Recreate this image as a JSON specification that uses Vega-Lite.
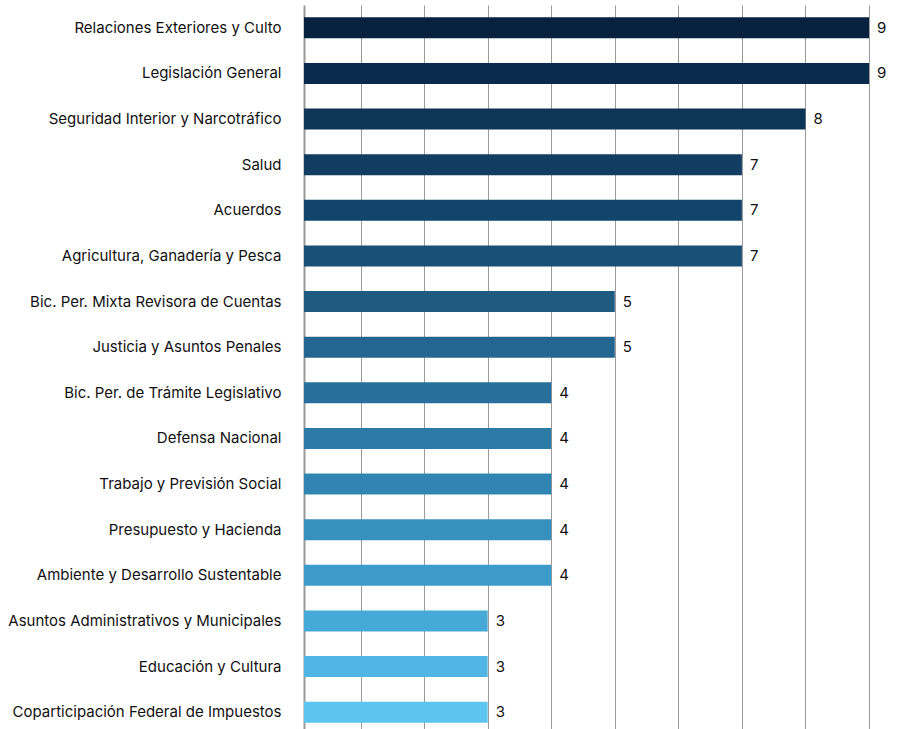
{
  "$schema": "https://vega.github.io/schema/vega-lite/v6.json",
  "width": 565,
  "height": 730,
  "autosize": {"type": "none"},
  "padding": {"left": 304, "top": 5, "right": 55, "bottom": 0},
  "background": "white",
  "config": {"view": {"stroke": null}, "font": "Inter"},
  "data": {
    "values": [
      {"comision": "Relaciones Exteriores y Culto", "n": 9},
      {"comision": "Legislación General", "n": 9},
      {"comision": "Seguridad Interior y Narcotráfico", "n": 8},
      {"comision": "Salud", "n": 7},
      {"comision": "Acuerdos", "n": 7},
      {"comision": "Agricultura, Ganadería y Pesca", "n": 7},
      {"comision": "Bic. Per. Mixta Revisora de Cuentas", "n": 5},
      {"comision": "Justicia y Asuntos Penales", "n": 5},
      {"comision": "Bic. Per. de Trámite Legislativo", "n": 4},
      {"comision": "Defensa Nacional", "n": 4},
      {"comision": "Trabajo y Previsión Social", "n": 4},
      {"comision": "Presupuesto y Hacienda", "n": 4},
      {"comision": "Ambiente y Desarrollo Sustentable", "n": 4},
      {"comision": "Asuntos Administrativos y Municipales", "n": 3},
      {"comision": "Educación y Cultura", "n": 3},
      {"comision": "Coparticipación Federal de Impuestos", "n": 3}
    ]
  },
  "encoding": {
    "y": {
      "field": "comision",
      "type": "nominal",
      "sort": null,
      "title": null,
      "scale": {"paddingInner": 0.54, "paddingOuter": 0.27},
      "axis": {
        "ticks": false,
        "domain": true,
        "domainColor": "#999999",
        "domainWidth": 2,
        "labelPadding": 23,
        "labelFontSize": 15,
        "labelColor": "#111111",
        "labelLimit": 400
      }
    },
    "x": {
      "field": "n",
      "type": "quantitative",
      "title": null,
      "scale": {"domain": [0.11, 9], "nice": false, "zero": false},
      "axis": {
        "values": [1, 2, 3, 4, 5, 6, 7, 8, 9],
        "labels": false,
        "ticks": false,
        "domain": false,
        "grid": true,
        "gridColor": "#9a9a9a",
        "gridWidth": 1
      }
    }
  },
  "layer": [
    {
      "mark": {"type": "bar", "clip": true},
      "encoding": {
        "color": {
          "field": "comision",
          "type": "nominal",
          "sort": null,
          "legend": null,
          "scale": {
            "range": ["#06223f", "#082a4c", "#0d3556", "#103d61", "#13456c", "#195078", "#1f5b81", "#236690", "#28709b", "#2c7ba6", "#3185b2", "#3790be", "#3d9bc9", "#47a9d6", "#51b5e4", "#5bc4ef"]
          }
        }
      }
    },
    {
      "mark": {"type": "text", "align": "left", "dx": 8, "fontSize": 15, "color": "#111111"},
      "encoding": {"text": {"field": "n", "type": "quantitative"}}
    }
  ]
}
